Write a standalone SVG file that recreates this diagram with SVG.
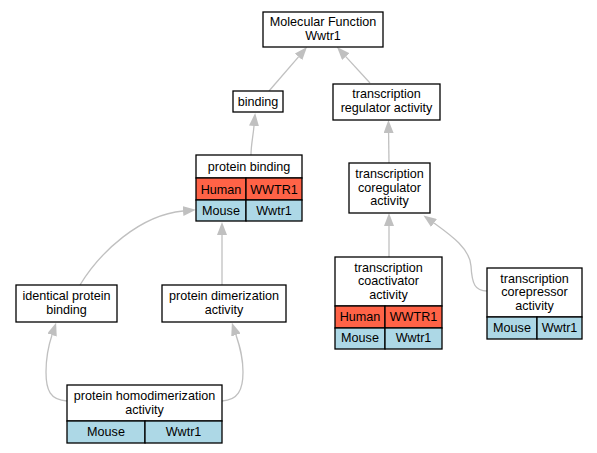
<svg xmlns="http://www.w3.org/2000/svg" width="597" height="453" viewBox="0 0 597 453">
<defs>
<marker id="arr" markerUnits="userSpaceOnUse" markerWidth="13" markerHeight="10" refX="0" refY="5" orient="auto" viewBox="0 0 13 10">
<path d="M0,0 L13,5 L0,10 z" fill="#c0c0c0"/>
</marker>
<style>
.box{fill:#fff;stroke:#000;stroke-width:1.3}
.hum{fill:#ff6347;stroke:#000;stroke-width:1.3}
.mou{fill:#add8e6;stroke:#000;stroke-width:1.3}
text{font-family:"Liberation Sans",Arial,sans-serif;font-size:12.6px;text-anchor:middle;fill:#000}
.e{fill:none;stroke:#c0c0c0;stroke-width:1.3;marker-end:url(#arr)}
</style>
</defs>
<rect width="597" height="453" fill="#fff"/>
<g id="edges">
<path class="e" d="M269,91 L298.5,56.8"/>
<path class="e" d="M370,83 L345.8,56.6"/>
<path class="e" d="M251,155 C251,145 253,137 254,126"/>
<path class="e" d="M389,163 L388.6,133"/>
<path class="e" d="M389,257 L389,226"/>
<path class="e" d="M487,291 C475,291 472,284 471,266 C470,249 452,236 434,223"/>
<path class="e" d="M80,285 C100,252 140,215 183,211"/>
<path class="e" d="M222,285 L222,235"/>
<path class="e" d="M67,401 C50,400 46,390 46,372 C46,357 48,347 52,335"/>
<path class="e" d="M222,401 C238,400 243,390 243,372 C243,357 240,347 236,335"/>
</g>
<g id="mf">
<rect class="box" x="263" y="12" width="120" height="35"/>
<text x="323" y="26">Molecular Function</text>
<text x="323" y="40">Wwtr1</text>
</g>
<g id="binding">
<rect class="box" x="233" y="91" width="50" height="21"/>
<text x="258" y="106">binding</text>
</g>
<g id="regulator">
<rect class="box" x="333" y="84" width="107" height="36"/>
<text x="386.5" y="98">transcription</text>
<text x="386.5" y="111.5">regulator activity</text>
</g>
<g id="proteinbinding">
<rect class="box" x="196" y="155" width="106" height="23"/>
<rect class="hum" x="196" y="178" width="50" height="22"/>
<rect class="hum" x="246" y="178" width="56" height="22"/>
<rect class="mou" x="196" y="200" width="50" height="21"/>
<rect class="mou" x="246" y="200" width="56" height="21"/>
<text x="249" y="171">protein binding</text>
<text x="221" y="193.5">Human</text>
<text x="274" y="193.5">WWTR1</text>
<text x="221" y="215">Mouse</text>
<text x="274" y="215">Wwtr1</text>
</g>
<g id="coregulator">
<rect class="box" x="349" y="163" width="81" height="50"/>
<text x="389.5" y="178">transcription</text>
<text x="389.5" y="191.5">coregulator</text>
<text x="389.5" y="205">activity</text>
</g>
<g id="coactivator">
<rect class="box" x="335" y="257" width="107" height="49"/>
<rect class="hum" x="335" y="306" width="50" height="22"/>
<rect class="hum" x="385" y="306" width="57" height="22"/>
<rect class="mou" x="335" y="328" width="50" height="21"/>
<rect class="mou" x="385" y="328" width="57" height="21"/>
<text x="388.5" y="271.5">transcription</text>
<text x="388.5" y="285">coactivator</text>
<text x="388.5" y="298.5">activity</text>
<text x="360" y="320.5">Human</text>
<text x="413.5" y="320.5">WWTR1</text>
<text x="360" y="342">Mouse</text>
<text x="413.5" y="342">Wwtr1</text>
</g>
<g id="corepressor">
<rect class="box" x="487" y="268" width="95" height="49"/>
<rect class="mou" x="487" y="317" width="50" height="22"/>
<rect class="mou" x="537" y="317" width="45" height="22"/>
<text x="534.5" y="282.5">transcription</text>
<text x="534.5" y="296">corepressor</text>
<text x="534.5" y="309.5">activity</text>
<text x="512" y="331.5">Mouse</text>
<text x="559.5" y="331.5">Wwtr1</text>
</g>
<g id="identical">
<rect class="box" x="16" y="285" width="101" height="37"/>
<text x="66.5" y="299.5">identical protein</text>
<text x="66.5" y="313.5">binding</text>
</g>
<g id="dimerization">
<rect class="box" x="162" y="285" width="124" height="37"/>
<text x="224" y="299.5">protein dimerization</text>
<text x="224" y="313.5">activity</text>
</g>
<g id="homodimerization">
<rect class="box" x="67" y="385" width="155" height="36"/>
<rect class="mou" x="67" y="421" width="78" height="22"/>
<rect class="mou" x="145" y="421" width="77" height="22"/>
<text x="144.5" y="400">protein homodimerization</text>
<text x="144.5" y="413.5">activity</text>
<text x="106" y="436">Mouse</text>
<text x="183.5" y="436">Wwtr1</text>
</g>
</svg>
